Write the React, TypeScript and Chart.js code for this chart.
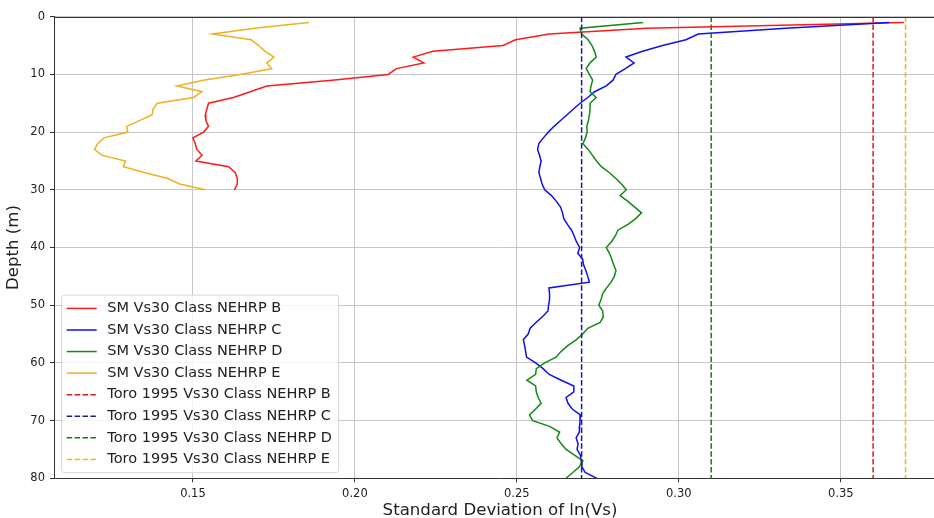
import React, { useEffect, useRef } from "react";
import { Chart, registerables } from "chart.js";

Chart.register(...registerables);

// ---------- data ----------
const depthsShallow = [
  1, 2, 3, 4, 5, 6, 7, 8, 9, 10, 11, 12, 13, 14, 15, 16, 17, 18, 19, 20, 21, 22, 23, 24, 25, 26, 27, 28, 29, 30,
];
const depthsDeep = [
  1, 2, 3, 4, 5, 6, 7, 8, 9, 10, 11, 12, 13, 14, 15, 16, 17, 18, 19, 20, 21, 22, 23, 24, 25, 26, 27, 28, 29, 30,
  31, 32, 33, 34, 35, 36, 37, 38, 39, 40, 41, 42, 43, 44, 45, 46, 47, 48, 49, 50, 51, 52, 53, 54, 55, 56, 57, 58,
  59, 60, 61, 62, 63, 64, 65, 66, 67, 68, 69, 70, 71, 72, 73, 74, 75, 76, 77, 78, 79, 80,
];

const smClassB = [
  0.3695, 0.29, 0.26, 0.2496, 0.2457, 0.2241, 0.218, 0.2213, 0.2128, 0.2103, 0.193, 0.1728, 0.1677, 0.1625, 0.1548,
  0.1543, 0.1538, 0.154, 0.1548, 0.1533, 0.15, 0.1507, 0.1512, 0.1528, 0.1509, 0.161, 0.163, 0.1637, 0.1637, 0.1628,
];
const smClassC = [
  0.365, 0.333, 0.306, 0.3022, 0.295, 0.2888, 0.2837, 0.2862, 0.2835, 0.2806, 0.2797, 0.2776, 0.274, 0.2719, 0.2695,
  0.2675, 0.2655, 0.2635, 0.2615, 0.2597, 0.2582, 0.2568, 0.2564, 0.257, 0.2575, 0.2571, 0.2568, 0.2573, 0.2578,
  0.2586, 0.2607, 0.2622, 0.2635, 0.2641, 0.2645, 0.2656, 0.2669, 0.2677, 0.2684, 0.2694, 0.2688, 0.2703, 0.2706,
  0.2713, 0.2719, 0.2724, 0.2599, 0.2601, 0.2601, 0.2598, 0.2596, 0.2579, 0.2559, 0.2541, 0.2535, 0.252, 0.2524,
  0.2527, 0.253, 0.2558, 0.2581, 0.26, 0.2637, 0.2676, 0.2676, 0.2652, 0.2658, 0.2671, 0.2696, 0.2695, 0.2694,
  0.2693, 0.2683, 0.2689, 0.2686, 0.2696, 0.2699, 0.2701, 0.2711, 0.2747,
];
const smClassD = [
  0.289, 0.2695, 0.27, 0.272, 0.2732, 0.274, 0.2745, 0.2726, 0.2714, 0.2724, 0.2734, 0.2729, 0.2726, 0.2745, 0.2726,
  0.2726, 0.2724, 0.2721, 0.2716, 0.2717, 0.2712, 0.2704, 0.272, 0.2733, 0.2746, 0.2761, 0.2785, 0.2805, 0.2823,
  0.2838, 0.2819, 0.2843, 0.2864, 0.2885, 0.2867, 0.2843, 0.2812, 0.2804, 0.2792, 0.2776, 0.2786, 0.2793, 0.2799,
  0.2806, 0.2801, 0.2791, 0.2777, 0.2765, 0.276, 0.2753, 0.2765, 0.2767, 0.2757, 0.2719, 0.2703, 0.2683, 0.2657,
  0.2637, 0.2621, 0.2586, 0.256, 0.2558, 0.2531, 0.2558, 0.256, 0.2566, 0.2575, 0.2558, 0.2539, 0.2549, 0.2601,
  0.2632, 0.2624, 0.2637, 0.2652, 0.2678, 0.2704, 0.2693, 0.2673, 0.2652,
];
const smClassE = [
  0.1858, 0.169, 0.156, 0.168, 0.1703, 0.1723, 0.175, 0.1728, 0.1743, 0.1646, 0.1531, 0.1451, 0.1528, 0.1502, 0.139,
  0.1377, 0.1374, 0.1335, 0.1295, 0.1299, 0.1225, 0.1206, 0.1196, 0.1218, 0.1291, 0.1286, 0.1349, 0.142, 0.1459,
  0.1538,
];

const toroClasses = ["B", "C", "D", "E"];
const toroValues = [0.36, 0.27, 0.31, 0.37];
const toroDepthRange = [0, 80];

const xTicksMin = 0.1071;
const xTicksMax = 0.3825;
const yMin = 0;
const yMax = 80;

const smColors = ["#ff1a1a", "#1010ee", "#138a13", "#f0b020"];
const toroColors = ["#d41e1e", "#1a1a9a", "#1a7a1a", "#f0b81c"];

const FONT = "'DejaVu Sans', 'Noto Sans', sans-serif";

function pts(xs: number[], ys: number[]) {
  return xs.map((x, i) => ({ x, y: ys[i] }));
}

const topSpinePlugin = {
  id: "topSpine",
  afterDraw(chart: any) {
    const { ctx, chartArea } = chart;
    ctx.save();
    ctx.strokeStyle = "#333";
    ctx.lineWidth = 1;
    ctx.beginPath();
    ctx.moveTo(chartArea.left, Math.round(chartArea.top) + 0.5);
    ctx.lineTo(chartArea.right, Math.round(chartArea.top) + 0.5);
    ctx.stroke();
    ctx.restore();
  },
};

const insideLegendPlugin = {
  id: "insideLegend",
  afterDraw(chart: any) {
    const { ctx, chartArea } = chart;
    const datasets = chart.data.datasets;
    const fontSize = 14.5;
    const rowH = 21.57;
    const n = datasets.length;
    ctx.save();
    ctx.font = `${fontSize}px ${FONT}`;
    let maxW = 0;
    datasets.forEach((ds: any) => {
      maxW = Math.max(maxW, ctx.measureText(ds.label).width);
    });
    const boxX = chartArea.left + 7.7;
    const textX = boxX + 45.6;
    const boxW = textX - boxX + maxW + 6.7;
    const boxH = 26.6 + (n - 1) * rowH;
    const boxY = chartArea.bottom - 5.6 - boxH;
    const r = 3;
    ctx.beginPath();
    ctx.moveTo(boxX + r, boxY);
    ctx.lineTo(boxX + boxW - r, boxY);
    ctx.quadraticCurveTo(boxX + boxW, boxY, boxX + boxW, boxY + r);
    ctx.lineTo(boxX + boxW, boxY + boxH - r);
    ctx.quadraticCurveTo(boxX + boxW, boxY + boxH, boxX + boxW - r, boxY + boxH);
    ctx.lineTo(boxX + r, boxY + boxH);
    ctx.quadraticCurveTo(boxX, boxY + boxH, boxX, boxY + boxH - r);
    ctx.lineTo(boxX, boxY + r);
    ctx.quadraticCurveTo(boxX, boxY, boxX + r, boxY);
    ctx.closePath();
    ctx.fillStyle = "rgba(255,255,255,0.8)";
    ctx.fill();
    ctx.strokeStyle = "#d6d6d6";
    ctx.lineWidth = 1;
    ctx.stroke();
    datasets.forEach((ds: any, i: number) => {
      const cy = boxY + 13.3 + i * rowH;
      ctx.save();
      ctx.strokeStyle = ds.borderColor;
      ctx.lineWidth = ds.borderWidth;
      ctx.setLineDash(ds.borderDash || []);
      ctx.beginPath();
      ctx.moveTo(boxX + 5, cy);
      ctx.lineTo(boxX + 35, cy);
      ctx.stroke();
      ctx.restore();
      ctx.fillStyle = "#222";
      ctx.textAlign = "left";
      ctx.textBaseline = "middle";
      ctx.fillText(ds.label, textX, cy);
    });
    ctx.restore();
  },
};

export default function App() {
  const canvasRef = useRef<HTMLCanvasElement | null>(null);

  useEffect(() => {
    if (!canvasRef.current) return;
    const smSeries = [
      { cls: "B", xs: smClassB, ys: depthsShallow },
      { cls: "C", xs: smClassC, ys: depthsDeep },
      { cls: "D", xs: smClassD, ys: depthsDeep },
      { cls: "E", xs: smClassE, ys: depthsShallow },
    ];
    const datasets: any[] = [];
    smSeries.forEach((s, i) => {
      datasets.push({
        label: `SM Vs30 Class NEHRP ${s.cls}`,
        data: pts(s.xs, s.ys),
        borderColor: smColors[i],
        backgroundColor: smColors[i],
        borderWidth: 1.5,
        showLine: true,
        pointRadius: 0,
        tension: 0,
        fill: false,
      });
    });
    toroClasses.forEach((c, i) => {
      datasets.push({
        label: `Toro 1995 Vs30 Class NEHRP ${c}`,
        data: toroDepthRange.map((d) => ({ x: toroValues[i], y: d })),
        borderColor: toroColors[i],
        backgroundColor: toroColors[i],
        borderWidth: 1.5,
        borderDash: [5.5, 2.4],
        showLine: true,
        pointRadius: 0,
        tension: 0,
        fill: false,
      });
    });
    datasets.forEach((d, i) => (d.order = datasets.length - i));

    const chart = new Chart(canvasRef.current, {
      type: "scatter",
      data: { datasets },
      options: {
        animation: false,
        responsive: false,
        devicePixelRatio: 1,
        layout: { padding: { top: 16.7, right: 0, left: 0, bottom: 0 } },
        plugins: {
          legend: { display: false },
          tooltip: { enabled: false },
        },
        scales: {
          x: {
            type: "linear",
            position: "bottom",
            min: xTicksMin,
            max: xTicksMax,
            afterFit: (scale: any) => {
              scale.height = 39.7;
            },
            ticks: {
              stepSize: 0.05,
              includeBounds: false,
              padding: 4.5,
              color: "#222",
              font: { family: FONT, size: 11.5 },
              callback: (v: any) => Number(v).toFixed(2),
            },
            grid: { color: "#c6c6c6", lineWidth: 1, tickLength: 4, tickColor: "#333", drawTicks: true },
            border: { display: true, color: "#333", width: 1 },
            title: {
              display: true,
              text: "Standard Deviation of ln(Vs)",
              color: "#222",
              font: { family: FONT, size: 16.6, lineHeight: 0.9 },
              padding: { top: 0, bottom: 0 },
            },
          },
          y: {
            type: "linear",
            position: "left",
            reverse: true,
            min: yMin,
            max: yMax,
            afterFit: (scale: any) => {
              scale.width = 54;
            },
            ticks: {
              stepSize: 10,
              padding: 5,
              color: "#222",
              font: { family: FONT, size: 11.5 },
            },
            grid: { color: "#c6c6c6", lineWidth: 1, tickLength: 4, tickColor: "#333", drawTicks: true },
            border: { display: true, color: "#333", width: 1 },
            title: {
              display: true,
              text: "Depth (m)",
              color: "#222",
              font: { family: FONT, size: 16.6, lineHeight: 1.2 },
              padding: { top: 3.5, bottom: 0 },
            },
          },
        },
      },
      plugins: [topSpinePlugin, insideLegendPlugin],
    });
    return () => chart.destroy();
  }, []);

  return (
    <div
      style={{
        position: "fixed",
        left: 0,
        top: 0,
        width: 934,
        height: 518,
        overflow: "hidden",
        background: "#fff",
      }}
    >
      <canvas ref={canvasRef} width={946} height={518} style={{ display: "block" }} />
    </div>
  );
}
